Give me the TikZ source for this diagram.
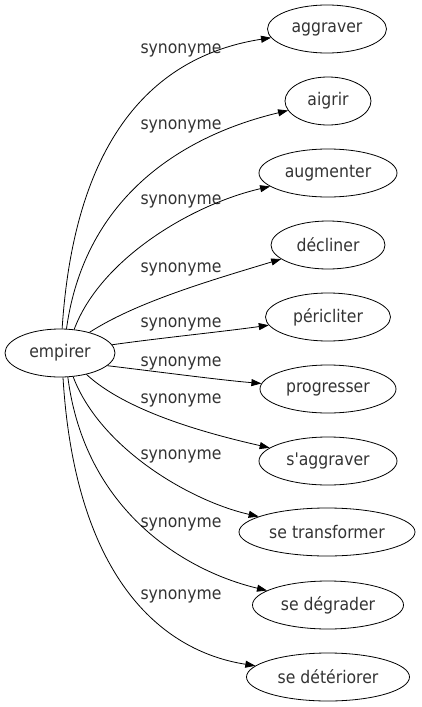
\documentclass[tikz,border=0pt]{standalone}
\usepackage{fontspec}
\setmainfont{DejaVu Sans Condensed}[Ligatures=TeXOff]
\usepackage{tikz}
\usetikzlibrary{shapes, arrows.meta}

\begin{document}
\begin{tikzpicture}
  [
    x=1pt, y=-1pt,
    >={Triangle[length=10pt, width=7pt]},
    Word/.style={ellipse, draw=black, line width=0.8pt, inner sep=0pt, minimum height=48pt, text=black!80, font=\fontsize{17.4}{20}\selectfont},
    Rel/.style={anchor=base, inner sep=0pt, text=black!80, font=\fontsize{17.4}{20}\selectfont}
  ]
  \useasboundingbox (0, 0) rectangle (422, 707);
  % Nodes (x, y)
  \node[Word, minimum width=110pt] (v0) at(60, 353) {empirer};
  \node[Word, minimum width=119pt] (v1) at(327, 29) {aggraver};
  \node[Word, minimum width=86pt] (v2) at(328, 101) {aigrir};
  \node[Word, minimum width=138pt] (v3) at(328, 173) {augmenter};
  \node[Word, minimum width=114pt] (v4) at(328, 245) {décliner};
  \node[Word, minimum width=125pt] (v5) at(328, 317) {péricliter};
  \node[Word, minimum width=136pt] (v6) at(328, 389) {progresser};
  \node[Word, minimum width=138pt] (v7) at(328, 461) {s'aggraver};
  \node[Word, minimum width=176pt] (v8) at(327, 532) {se transformer};
  \node[Word, minimum width=151pt] (v9) at(328, 605) {se dégrader};
  \node[Word, minimum width=163pt] (v10) at(328, 677) {se détériorer};

  % Labels
  \node[Rel] (l1) at(181, 53) {synonyme};
  \node[Rel] (l2) at(181, 129) {synonyme};
  \node[Rel] (l3) at(181, 204) {synonyme};
  \node[Rel] (l4) at(181, 272) {synonyme};
  \node[Rel] (l5) at(181, 327) {synonyme};
  \node[Rel] (l6) at(181, 366) {synonyme};
  \node[Rel] (l7) at(181, 403) {synonyme};
  \node[Rel] (l8) at(181, 459) {synonyme};
  \node[Rel] (l9) at(181, 527) {synonyme};
  \node[Rel] (l10) at(181, 599) {synonyme};

  % Lines
  % empirer -> aggraver
  \path [->, draw, line width=0.8pt] (v0.85) .. controls (75, 130) and (160, 55) .. (v1);
  % empirer -> aigrir
  \path [->, draw, line width=0.8pt] (v0.75) .. controls (85, 195) and (185, 135) .. (v2);
  % empirer -> augmenter
  \path [->, draw, line width=0.8pt] (v0.59) .. controls (100, 260) and (190, 205) .. (v3);
  % empirer -> decliner
  \path [->, draw, line width=0.8pt] (v0.35) .. controls (135, 303) and (205, 282) .. (v4);
  % empirer -> pericliter
  \path [->, draw, line width=0.8pt] (v0.9) .. controls (160, 338) and (220, 332) .. (v5);
  % empirer -> progresser
  \path [->, draw, line width=0.8pt] (v0.-15) .. controls (160, 372) and (220, 380) .. (v6);
  % empirer -> s'aggraver
  \path [->, draw, line width=0.8pt] (v0.-39) .. controls (125, 410) and (200, 432) .. (v7);
  % empirer -> se transformer
  \path [->, draw, line width=0.8pt] (v0.-61) .. controls (100, 448) and (190, 501) .. (v8);
  % empirer -> se degrader
  \path [->, draw, line width=0.8pt] (v0.-72) .. controls (85, 511) and (185, 571) .. (v9);
  % empirer -> se deteriorer
  \path [->, draw, line width=0.8pt] (v0.-83) .. controls (75, 576) and (160, 651) .. (v10);

\end{tikzpicture}
\end{document}
